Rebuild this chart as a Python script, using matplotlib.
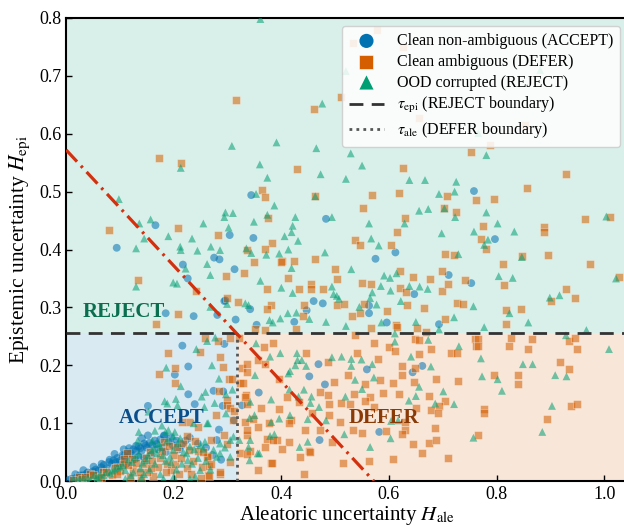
import numpy as np
import matplotlib
matplotlib.use('Agg')
import matplotlib.pyplot as plt

plt.rcParams['font.family'] = ['Liberation Serif', 'DejaVu Serif']
plt.rcParams['mathtext.fontset'] = 'stix'

# thresholds
tau_epi = 0.255
tau_ale = 0.318
diag_c = 0.572

# Clean non-ambiguous (ACCEPT) - circles
accept_x = [0.166, 0.344, 0.304, 0.348, 0.094, 0.275, 0.285, 0.483, 0.758, 0.797, 0.612, 0.217, 0.226, 0.185,
            0.237, 0.313, 0.294, 0.281, 0.342, 0.315, 0.447, 0.460, 0.477, 0.354, 0.424, 0.575, 0.647, 0.711,
            0.753, 0.563, 0.563, 0.596, 0.693, 0.296,
            0.216, 0.294, 0.202, 0.227, 0.227, 0.152, 0.152, 0.182, 0.274, 0.291, 0.284, 0.280, 0.288, 0.469,
            0.452, 0.481, 0.358, 0.327, 0.471, 0.559, 0.662, 0.644, 0.582, 0.239, 0.292, 0.312, 0.182, 0.141,
            0.130, 0.117, 0.107, 0.090, 0.081, 0.066, 0.051, 0.032, 0.017,
            0.005, 0.010, 0.020, 0.025, 0.040, 0.045, 0.055, 0.060, 0.070, 0.075, 0.085, 0.095, 0.100, 0.105,
            0.110, 0.115, 0.120, 0.125, 0.135, 0.140, 0.145, 0.150, 0.160, 0.165, 0.170, 0.175, 0.190, 0.195,
            0.205, 0.215, 0.230, 0.245, 0.260, 0.272, 0.128, 0.098, 0.135, 0.158, 0.185,
            0.030, 0.038, 0.050, 0.065, 0.080, 0.088, 0.093, 0.108, 0.118, 0.130, 0.138, 0.148, 0.155, 0.168,
            0.180, 0.198, 0.210, 0.222, 0.112, 0.145]
accept_y = [0.442, 0.494, 0.425, 0.420, 0.403, 0.386, 0.383, 0.453, 0.501, 0.418, 0.395, 0.374, 0.350, 0.290,
            0.285, 0.366, 0.311, 0.287, 0.297, 0.279, 0.295, 0.311, 0.307, 0.270, 0.275, 0.384, 0.323, 0.356,
            0.342, 0.303, 0.290, 0.274, 0.271, 0.312,
            0.234, 0.237, 0.184, 0.198, 0.150, 0.130, 0.079, 0.079, 0.156, 0.130, 0.089, 0.071, 0.037, 0.202,
            0.181, 0.167, 0.153, 0.131, 0.071, 0.193, 0.199, 0.188, 0.085, 0.133, 0.155, 0.105, 0.078, 0.074,
            0.061, 0.057, 0.055, 0.047, 0.037, 0.030, 0.025, 0.019, 0.012,
            0.002, 0.004, 0.007, 0.010, 0.015, 0.012, 0.020, 0.018, 0.028, 0.022, 0.030, 0.040, 0.035, 0.045,
            0.040, 0.050, 0.048, 0.055, 0.060, 0.052, 0.065, 0.058, 0.062, 0.070, 0.055, 0.072, 0.068, 0.075,
            0.070, 0.062, 0.075, 0.065, 0.058, 0.045, 0.038, 0.028, 0.042, 0.045, 0.050,
            0.010, 0.013, 0.017, 0.024, 0.033, 0.036, 0.033, 0.044, 0.046, 0.052, 0.057, 0.062, 0.066, 0.064,
            0.058, 0.062, 0.055, 0.070, 0.030, 0.040]

# Clean ambiguous (DEFER) - squares
defer_x = [0.173, 0.214, 0.079, 0.208, 0.315, 0.461, 0.429, 0.364, 0.370, 0.462, 0.376, 0.282, 0.383, 0.336,
           0.369, 0.401, 0.424, 0.462, 0.510, 0.577, 0.533, 0.627, 0.655, 0.788, 0.853,
           0.627, 0.753, 0.930, 0.856, 0.568, 0.618, 0.707, 0.762, 0.795, 0.551, 0.703, 0.724, 0.629, 0.774,
           0.965, 1.011, 0.615, 0.888, 0.889, 0.537, 0.547, 0.604, 0.771, 0.781, 0.704, 0.720, 0.895, 0.134,
           0.242, 0.207, 0.167, 0.298, 0.331, 0.349, 0.400, 0.499, 0.413, 0.373, 0.433, 0.455, 0.455, 0.478,
           0.503, 0.320, 0.380, 0.373, 0.443, 0.503, 0.440, 0.351, 0.369, 0.428, 0.299, 0.550, 0.566, 0.621,
           0.645, 0.676, 0.621, 0.632, 0.699, 0.710, 0.699, 0.741, 0.554, 0.517, 0.547, 0.596, 0.634, 0.665,
           0.726, 0.738, 0.532, 0.614, 0.705, 0.567, 0.652, 0.668, 0.615, 0.848, 0.812, 0.974, 0.814, 1.027,
           0.929, 0.901, 0.946, 0.818, 0.845, 0.817,
           0.190, 0.203, 0.172, 0.203, 0.249, 0.258, 0.282, 0.304, 0.286, 0.292, 0.302, 0.308, 0.284, 0.299,
           0.299, 0.305, 0.278, 0.311, 0.270, 0.294, 0.299, 0.264, 0.305, 0.252, 0.286, 0.264, 0.312, 0.229,
           0.322, 0.367, 0.384, 0.357, 0.327, 0.336, 0.323, 0.329, 0.370, 0.396, 0.445, 0.486, 0.498, 0.472,
           0.487, 0.335, 0.410, 0.432, 0.336, 0.362, 0.395, 0.488, 0.510, 0.418, 0.348, 0.377, 0.332, 0.356,
           0.457, 0.488, 0.444, 0.472, 0.336, 0.373, 0.392, 0.414, 0.452, 0.494, 0.342, 0.401, 0.380, 0.435,
           0.356, 0.442, 0.323, 0.336, 0.333, 0.336, 0.385, 0.370, 0.382, 0.336, 0.454, 0.415,
           0.537, 0.572, 0.600, 0.612, 0.649, 0.655, 0.678, 0.716, 0.727, 0.760, 0.761, 0.540, 0.579, 0.655,
           0.523, 0.625, 0.625, 0.648, 0.583, 0.608, 0.647, 0.688, 0.729, 0.556, 0.589, 0.618, 0.674, 0.535,
           0.565, 0.555, 0.572, 0.704, 0.693, 0.527, 0.651, 0.678, 0.691, 0.630, 0.509, 0.533, 0.594, 0.630,
           0.685, 0.549, 0.625, 0.644, 0.675, 0.687, 0.662, 0.563, 0.607, 0.709, 0.514,
           0.826, 0.865, 0.934, 0.946, 0.765, 0.765, 0.823, 0.859, 0.949, 0.918, 0.935, 0.796, 0.840, 0.839,
           0.939, 0.950, 0.776, 0.776, 0.893, 0.765,
           0.113, 0.122, 0.144, 0.187, 0.206, 0.218, 0.228, 0.245, 0.261, 0.265, 0.286, 0.266, 0.162, 0.140,
           0.094, 0.069, 0.045, 0.023, 0.224, 0.246, 0.216, 0.181, 0.125, 0.150, 0.175, 0.200, 0.105, 0.085,
           0.060, 0.195, 0.235, 0.155, 0.170, 0.210, 0.030, 0.012,
           0.035, 0.050, 0.075, 0.090, 0.100, 0.115, 0.130, 0.138, 0.148, 0.160, 0.178, 0.185, 0.192, 0.203,
           0.225, 0.240, 0.255, 0.270, 0.118, 0.158, 0.213, 0.232, 0.250, 0.065, 0.095, 0.108]
defer_y = [0.558, 0.549, 0.434, 0.438, 0.659, 0.642, 0.539, 0.503, 0.490, 0.493, 0.455, 0.425, 0.412, 0.399,
           0.401, 0.381, 0.381, 0.383, 0.664, 0.779, 0.757, 0.749, 0.628, 0.581, 0.615,
           0.541, 0.569, 0.531, 0.507, 0.495, 0.498, 0.493, 0.486, 0.487, 0.471, 0.471, 0.464, 0.455, 0.441,
           0.453, 0.456, 0.430, 0.439, 0.430, 0.416, 0.408, 0.408, 0.419, 0.401, 0.392, 0.391, 0.390, 0.347,
           0.329, 0.289, 0.271, 0.355, 0.359, 0.378, 0.379, 0.366, 0.350, 0.332, 0.331, 0.340, 0.331, 0.331,
           0.349, 0.310, 0.305, 0.298, 0.304, 0.304, 0.286, 0.262, 0.261, 0.262, 0.316, 0.343, 0.340, 0.363,
           0.353, 0.349, 0.333, 0.327, 0.329, 0.340, 0.363, 0.347, 0.306, 0.306, 0.291, 0.294, 0.304, 0.299,
           0.307, 0.306, 0.285, 0.270, 0.280, 0.264, 0.265, 0.258, 0.266, 0.389, 0.375, 0.375, 0.338, 0.353,
           0.332, 0.311, 0.316, 0.295, 0.297, 0.271,
           0.222, 0.195, 0.185, 0.170, 0.223, 0.248, 0.242, 0.247, 0.214, 0.198, 0.177, 0.177, 0.156, 0.140,
           0.132, 0.126, 0.114, 0.105, 0.071, 0.079, 0.065, 0.043, 0.033, 0.025, 0.013, 0.010, 0.121, 0.102,
           0.247, 0.232, 0.239, 0.209, 0.195, 0.189, 0.169, 0.169, 0.203, 0.177, 0.221, 0.205, 0.172, 0.154,
           0.148, 0.149, 0.146, 0.136, 0.134, 0.126, 0.124, 0.133, 0.135, 0.105, 0.108, 0.101, 0.102, 0.094,
           0.117, 0.115, 0.088, 0.088, 0.079, 0.072, 0.071, 0.067, 0.052, 0.068, 0.052, 0.055, 0.032, 0.041,
           0.019, 0.013, 0.048, 0.203, 0.146, 0.088, 0.071, 0.059, 0.032, 0.047, 0.051, 0.100,
           0.252, 0.238, 0.232, 0.225, 0.245, 0.243, 0.229, 0.222, 0.222, 0.245, 0.233, 0.222, 0.211, 0.219,
           0.183, 0.199, 0.183, 0.196, 0.175, 0.169, 0.172, 0.176, 0.173, 0.168, 0.152, 0.150, 0.147, 0.150,
           0.146, 0.138, 0.128, 0.138, 0.130, 0.133, 0.127, 0.123, 0.117, 0.102, 0.102, 0.088, 0.087, 0.089,
           0.092, 0.084, 0.081, 0.064, 0.066, 0.071, 0.049, 0.035, 0.039, 0.040, 0.032,
           0.247, 0.245, 0.242, 0.247, 0.245, 0.234, 0.233, 0.229, 0.228, 0.206, 0.194, 0.183, 0.183, 0.167,
           0.130, 0.134, 0.124, 0.118, 0.107, 0.079,
           0.048, 0.039, 0.030, 0.030, 0.059, 0.066, 0.053, 0.052, 0.042, 0.026, 0.016, 0.009, 0.009, 0.005,
           0.025, 0.016, 0.012, 0.007, 0.078, 0.094, 0.102, 0.068, 0.020, 0.015, 0.040, 0.045, 0.030, 0.010,
           0.005, 0.020, 0.035, 0.050, 0.025, 0.012, 0.003, 0.002,
           0.008, 0.010, 0.015, 0.022, 0.018, 0.028, 0.032, 0.015, 0.040, 0.035, 0.052, 0.015, 0.060, 0.030,
           0.022, 0.070, 0.050, 0.030, 0.008, 0.022, 0.040, 0.012, 0.005, 0.008, 0.012, 0.038]

# OOD corrupted (REJECT) - triangles
reject_x = [0.098, 0.157, 0.136, 0.190, 0.234, 0.145, 0.213, 0.361, 0.308, 0.391, 0.465, 0.360, 0.374, 0.353,
            0.387, 0.374, 0.426, 0.310, 0.294, 0.296, 0.349, 0.255, 0.302, 0.421, 0.419, 0.406, 0.431, 0.269,
            0.244, 0.286, 0.212, 0.130, 0.335, 0.413, 0.396, 0.372, 0.476, 0.473, 0.463, 0.494, 0.520, 0.881,
            0.766, 0.529, 0.550, 0.781, 0.520, 0.638, 0.667, 0.725, 0.693, 0.722, 0.673, 0.656, 0.703, 0.781,
            0.629, 0.723, 0.563, 0.802, 1.004, 0.698, 0.758, 0.833, 0.567, 0.581, 0.784, 0.777, 0.481, 0.729,
            0.847, 0.213, 0.222, 0.130, 0.206, 0.344, 0.262, 0.268, 0.419, 0.361, 0.400, 0.421, 0.494, 0.497,
            0.299, 0.268, 0.333, 0.503, 0.412, 0.428, 0.398, 0.452, 0.384, 0.483, 0.530, 0.591, 0.602, 0.614,
            0.585, 0.603, 0.638, 0.657, 0.672, 0.569, 0.565, 0.545, 0.577, 0.622, 0.507, 0.757, 0.586, 0.650,
            0.721, 0.804, 0.830, 1.022, 0.899, 0.917, 0.824, 0.859, 0.777, 0.967, 0.199, 0.339, 0.378, 0.520,
            0.693,
            0.242, 0.186, 0.213, 0.204, 0.207, 0.188, 0.153, 0.135, 0.165, 0.178, 0.277, 0.262, 0.271, 0.284,
            0.297, 0.309, 0.257, 0.276, 0.297, 0.262, 0.305, 0.286, 0.255, 0.183, 0.252, 0.259, 0.237, 0.264,
            0.202, 0.185, 0.133,
            0.353, 0.398, 0.379, 0.351, 0.413, 0.426, 0.430, 0.429, 0.438, 0.446, 0.416, 0.494, 0.442, 0.415,
            0.342, 0.381, 0.432, 0.456, 0.454, 0.470, 0.416, 0.350, 0.381, 0.396, 0.449, 0.483, 0.342, 0.387,
            0.434, 0.449, 0.339, 0.356, 0.341, 0.322, 0.341, 0.379, 0.359,
            0.611, 0.611, 0.673, 0.730, 0.512, 0.530, 0.549, 0.641, 0.569, 0.530, 0.678, 0.572, 0.656, 0.537,
            0.550, 0.650, 0.701, 0.519, 0.637, 0.686, 0.721, 0.617, 0.604, 0.517, 0.603, 0.565, 0.757, 0.929,
            1.009, 0.771, 0.849, 0.867, 0.773, 0.802, 0.909, 0.930, 0.810, 0.903, 0.885,
            0.181, 0.159, 0.169, 0.193, 0.212, 0.234, 0.249, 0.138, 0.110, 0.082, 0.057, 0.032, 0.013, 0.123,
            0.150, 0.175, 0.199, 0.224, 0.249, 0.274, 0.305, 0.286, 0.311, 0.199, 0.190, 0.100, 0.145, 0.165,
            0.215, 0.230, 0.260, 0.070, 0.090, 0.120, 0.045, 0.020, 0.160, 0.205, 0.240,
            0.025, 0.040, 0.052, 0.063, 0.075, 0.085, 0.095, 0.105, 0.115, 0.128, 0.135, 0.142, 0.152, 0.163,
            0.172, 0.180, 0.188, 0.195, 0.208, 0.218, 0.226, 0.238, 0.245, 0.258, 0.268, 0.280, 0.295, 0.125,
            0.155, 0.175, 0.110, 0.140, 0.200, 0.230, 0.060, 0.185]
reject_y = [0.487, 0.452, 0.445, 0.423, 0.419, 0.419, 0.541, 0.798, 0.579, 0.585, 0.575, 0.547, 0.524, 0.496,
            0.476, 0.460, 0.456, 0.463, 0.456, 0.464, 0.448, 0.445, 0.438, 0.441, 0.430, 0.423, 0.415, 0.405,
            0.398, 0.399, 0.405, 0.402, 0.402, 0.400, 0.393, 0.391, 0.652, 0.530, 0.492, 0.456, 0.708, 0.710,
            0.601, 0.566, 0.545, 0.563, 0.522, 0.520, 0.520, 0.517, 0.496, 0.500, 0.470, 0.467, 0.471, 0.464,
            0.445, 0.456, 0.445, 0.445, 0.457, 0.428, 0.431, 0.431, 0.419, 0.407, 0.417, 0.408, 0.395, 0.392,
            0.387, 0.399, 0.367, 0.336, 0.341, 0.394, 0.375, 0.356, 0.368, 0.346, 0.334, 0.325, 0.336, 0.323,
            0.306, 0.301, 0.307, 0.320, 0.290, 0.291, 0.281, 0.280, 0.274, 0.275, 0.366, 0.355, 0.351, 0.359,
            0.337, 0.329, 0.337, 0.336, 0.332, 0.326, 0.316, 0.301, 0.305, 0.311, 0.315, 0.302, 0.274, 0.275,
            0.283, 0.354, 0.351, 0.350, 0.317, 0.321, 0.290, 0.274, 0.266, 0.261, 0.343, 0.304, 0.278, 0.268,
            0.262,
            0.228, 0.196, 0.164, 0.142, 0.131, 0.134, 0.120, 0.085, 0.087, 0.096, 0.248, 0.242, 0.200, 0.177,
            0.150, 0.158, 0.128, 0.135, 0.117, 0.100, 0.071, 0.048, 0.056, 0.138, 0.146, 0.154, 0.100, 0.100,
            0.085, 0.085, 0.070,
            0.238, 0.221, 0.215, 0.183, 0.186, 0.200, 0.209, 0.221, 0.209, 0.199, 0.190, 0.214, 0.158, 0.158,
            0.137, 0.141, 0.146, 0.146, 0.135, 0.128, 0.114, 0.114, 0.102, 0.108, 0.107, 0.105, 0.071, 0.081,
            0.059, 0.068, 0.059, 0.048, 0.036, 0.071, 0.109, 0.078, 0.048,
            0.255, 0.241, 0.244, 0.233, 0.215, 0.211, 0.210, 0.215, 0.202, 0.199, 0.198, 0.179, 0.163, 0.175,
            0.159, 0.147, 0.155, 0.146, 0.139, 0.134, 0.133, 0.105, 0.104, 0.081, 0.074, 0.059, 0.075, 0.252,
            0.228, 0.212, 0.202, 0.202, 0.181, 0.176, 0.183, 0.181, 0.156, 0.130, 0.085,
            0.004, 0.053, 0.048, 0.042, 0.074, 0.030, 0.019, 0.022, 0.019, 0.013, 0.007, 0.005, 0.003, 0.033,
            0.036, 0.059, 0.054, 0.048, 0.062, 0.054, 0.042, 0.065, 0.077, 0.078, 0.088, 0.025, 0.012, 0.030,
            0.030, 0.060, 0.035, 0.010, 0.020, 0.010, 0.002, 0.001, 0.070, 0.020, 0.008,
            0.004, 0.006, 0.010, 0.012, 0.016, 0.018, 0.024, 0.028, 0.036, 0.041, 0.047, 0.032, 0.045, 0.056,
            0.065, 0.045, 0.070, 0.032, 0.066, 0.050, 0.036, 0.055, 0.040, 0.068, 0.020, 0.042, 0.058, 0.015,
            0.020, 0.012, 0.004, 0.006, 0.008, 0.004, 0.003, 0.035]

c_acc = '#0072B2'
c_def = '#D55E00'
c_rej = '#009E73'

fig = plt.figure(figsize=(6.24, 5.27), dpi=100)
ax = fig.add_axes([0.106, 0.087, 0.901, 0.879])

xmax, ymax = 1.045, 0.8

# region shading
ax.fill_between([0, xmax], tau_epi, ymax, color=c_rej, alpha=0.15, lw=0, zorder=0)
ax.fill_between([0, tau_ale], 0, tau_epi, color=c_acc, alpha=0.15, lw=0, zorder=0)
ax.fill_between([tau_ale, xmax], 0, tau_epi, color=c_def, alpha=0.15, lw=0, zorder=0)

ax.scatter(accept_x, accept_y, s=32, marker='o', color=c_acc, alpha=0.55, edgecolors='none',
           label='Clean non-ambiguous (ACCEPT)', zorder=3)
ax.scatter(defer_x, defer_y, s=30, marker='s', color=c_def, alpha=0.55, edgecolors='white', linewidths=0.4,
           label='Clean ambiguous (DEFER)', zorder=3)
ax.scatter(reject_x, reject_y, s=32, marker='^', color=c_rej, alpha=0.55, edgecolors='none',
           label='OOD corrupted (REJECT)', zorder=3)

# boundaries
ax.axhline(tau_epi, color='#333333', ls=(0, (5, 3)), lw=2, zorder=4,
           label=r'$\tau_{\rm epi}$ (REJECT boundary)')
ax.plot([tau_ale, tau_ale], [0, tau_epi], color='#555555', ls=(0, (1, 1.5)), lw=2, zorder=4,
        label=r'$\tau_{\rm ale}$ (DEFER boundary)')
xd = np.array([0, diag_c])
ax.plot(xd, diag_c - xd, color='#d4300e', ls=(0, (5, 1.8, 0.8, 1.8)), lw=2.3, zorder=5)

# region labels
ax.text(0.108, 0.292, 'REJECT', color='#0b6e4f', fontsize=15, fontweight='bold', ha='center', va='center', zorder=6)
ax.text(0.177, 0.109, 'ACCEPT', color='#0a4f8c', fontsize=15, fontweight='bold', ha='center', va='center', zorder=6)
ax.text(0.591, 0.109, 'DEFER', color='#8a3a06', fontsize=15, fontweight='bold', ha='center', va='center', zorder=6)

ax.set_xlim(0, xmax)
ax.set_ylim(0, ymax)
ax.set_xticks([0.0, 0.2, 0.4, 0.6, 0.8, 1.0])
ax.set_yticks([0.0, 0.1, 0.2, 0.3, 0.4, 0.5, 0.6, 0.7, 0.8])
ax.tick_params(direction='in', labelsize=13, length=4, width=1)
for sp in ax.spines.values():
    sp.set_linewidth(1.5)

ax.set_xlabel(r'Aleatoric uncertainty $H_{\rm ale}$', fontsize=15, labelpad=1)
ax.set_ylabel(r'Epistemic uncertainty $H_{\rm epi}$', fontsize=15.5, labelpad=5)

leg = ax.legend(loc='upper right', fontsize=11.5, markerscale=1.8, framealpha=0.85, handlelength=2.2,
                borderpad=0.45, labelspacing=0.3)
for h in leg.legend_handles[:3]:
    h.set_alpha(1)
leg.set_zorder(10)

fig.savefig('out.png', dpi=100)
